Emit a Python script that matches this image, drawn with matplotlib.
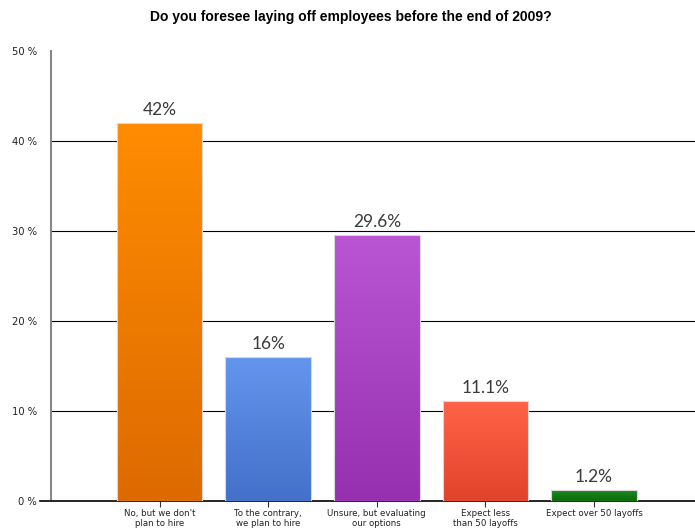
#!/usr/bin/env python3

import matplotlib
matplotlib.use('Agg')
import matplotlib.pyplot as plt
import numpy as np
from matplotlib.colors import LinearSegmentedColormap

categories = [
    "No, but we don't\nplan to hire",
    "To the contrary,\nwe plan to hire",
    "Unsure, but evaluating\nour options",
    "Expect less\nthan 50 layoffs",
    "Expect over 50 layoffs",
]
values = [42, 16, 29.6, 11.1, 1.2]
labels = ["42%", "16%", "29.6%", "11.1%", "1.2%"]
# top / bottom colour of each bar's gradient
top_colors = ['#ff8c00', '#6495ed', '#ba55d3', '#ff6347', '#1f8a1f']
bottom_colors = ['#dd6a00', '#4470c8', '#9630b0', '#e0432a', '#0a6a0a']
y_ticks = [0, 10, 20, 30, 40, 50]


def gradient_bar(ax, bar, top, bottom):
    cmap = LinearSegmentedColormap.from_list('g', [bottom, top])
    x0, y0 = bar.get_x(), bar.get_y()
    w, h = bar.get_width(), bar.get_height()
    grad = np.linspace(0, 1, 256).reshape(-1, 1)
    im = ax.imshow(grad, cmap=cmap, origin='lower', aspect='auto',
                   extent=(x0, x0 + w, y0, y0 + h), zorder=3)
    im.set_clip_path(bar)


def plot_chart():
    fig = plt.figure(figsize=(6.95, 5.31), dpi=100)
    ax = fig.add_axes([51 / 695, 30 / 531, 644 / 695, 450 / 531])

    x = np.arange(len(values))
    bars = ax.bar(x, values, width=0.79, color='none',
                  edgecolor='#d8d8d8', linewidth=0.8, zorder=4)
    for bar, top, bottom in zip(bars, top_colors, bottom_colors):
        gradient_bar(ax, bar, top, bottom)

    for xi, v, lab in zip(x, values, labels):
        ax.text(xi, v + 0.55, lab, ha='center', va='bottom',
                fontsize=12.5, color='#3a3a3a', family='Lato')

    ax.set_xlim(-1.0, 4.93)
    ax.set_ylim(0, 50)

    for t in y_ticks[1:-1]:
        ax.axhline(t, color='black', linewidth=0.8, zorder=2)

    ax.set_yticks(y_ticks)
    ax.set_yticklabels(['{} %'.format(t) for t in y_ticks],
                       fontsize=7.2, color='#222222')
    ax.tick_params(axis='y', length=0, pad=10)
    ax.set_xticks(x)
    ax.set_xticklabels(categories, fontsize=6.2, color='#222222',
                       linespacing=1.1)
    ax.tick_params(axis='x', length=4, width=0.8, color='#333333', pad=2)

    for side in ['top', 'right']:
        ax.spines[side].set_visible(False)
    ax.spines['left'].set_color('#888888')
    ax.spines['left'].set_linewidth(1.5)
    ax.spines['bottom'].set_color('black')
    ax.spines['bottom'].set_linewidth(1.2)
    ax.plot([-1.1, -1.0], [0, 0], color='black', linewidth=1.2,
            clip_on=False)

    fig.text(0.505, 0.968, 'Do you foresee laying off employees before the end of 2009?',
             ha='center', va='center', fontsize=10, fontweight='bold',
             family='Liberation Sans')

    fig.savefig('out.png', dpi=100)


if __name__ == '__main__':
    plot_chart()
